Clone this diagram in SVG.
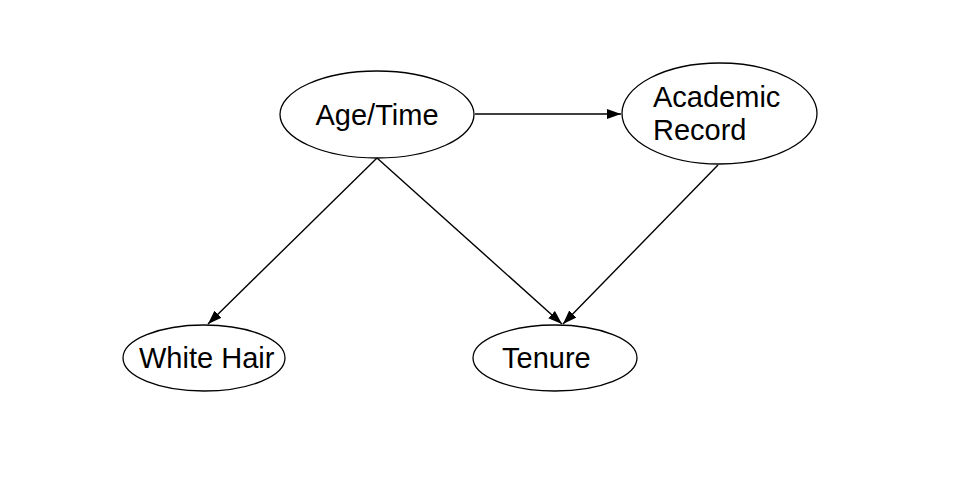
<svg xmlns="http://www.w3.org/2000/svg" width="966" height="486" viewBox="0 0 966 486">
<defs>
<marker id="ah" viewBox="0 0 14 10" refX="14" refY="5" markerWidth="14" markerHeight="10" markerUnits="userSpaceOnUse" orient="auto">
<path d="M0,0 L14,5 L0,10 Z" fill="#000"/>
</marker>
</defs>
<style>
.n{fill:#fff;stroke:#000;stroke-width:1.3}
.t{font-family:"Liberation Sans",Arial,sans-serif;font-size:29px;fill:#000}
.e{stroke:#000;stroke-width:1.4;fill:none;marker-end:url(#ah)}
</style>
<rect width="966" height="486" fill="#fff"/>
<g id="connectors">
<line class="e" x1="475" y1="114" x2="621" y2="114"/>
<line class="e" x1="377" y1="158" x2="208" y2="324"/>
<line class="e" x1="377" y1="158" x2="562" y2="324"/>
<line class="e" x1="718" y1="165" x2="563" y2="324"/>
</g>
<g id="age">
<ellipse class="n" cx="377" cy="114.5" rx="97" ry="43.5"/>
<text class="t" x="377" y="125" text-anchor="middle">Age/Time</text>
</g>
<g id="academic">
<ellipse class="n" cx="719.5" cy="113.5" rx="97.5" ry="50.5"/>
<text class="t" x="653" y="107">Academic</text>
<text class="t" x="653" y="140">Record</text>
</g>
<g id="whitehair">
<ellipse class="n" cx="204" cy="358" rx="81" ry="33"/>
<text class="t" x="139" y="368">White Hair</text>
</g>
<g id="tenure">
<ellipse class="n" cx="555" cy="358" rx="82" ry="33"/>
<text class="t" x="502" y="368">Tenure</text>
</g>
</svg>
